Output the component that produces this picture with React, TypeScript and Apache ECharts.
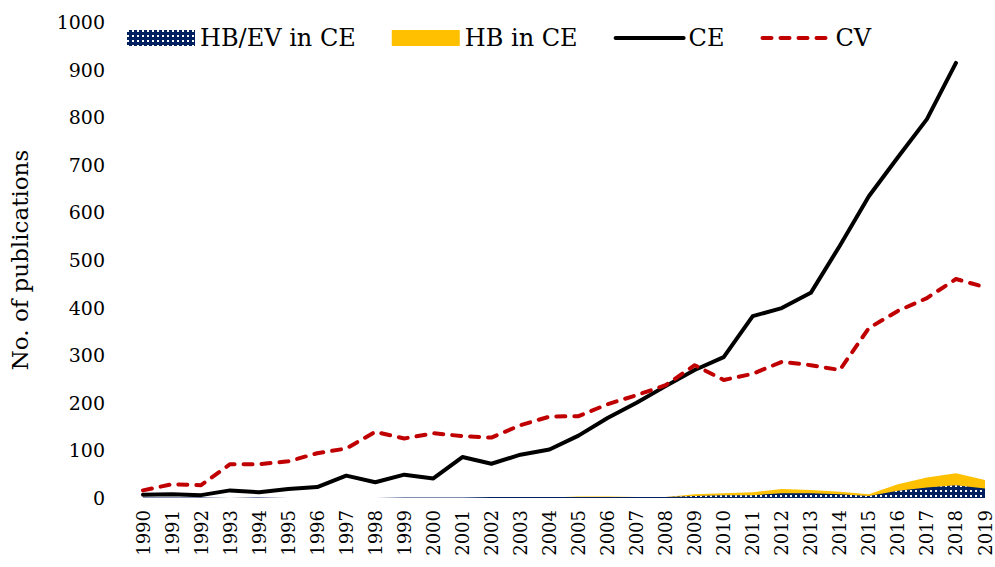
import React, { useEffect, useRef } from "react";
import * as echarts from "echarts";

const years = ["1990","1991","1992","1993","1994","1995","1996","1997","1998","1999","2000","2001","2002","2003","2004","2005","2006","2007","2008","2009","2010","2011","2012","2013","2014","2015","2016","2017","2018","2019"];
const hbEvInCE = [1,1,1,0,1,0,0,0,0,1,1,1,2,2,2,2,2,2,2,4,6,6,10,10,8,4,15,22,27,20];
const hbInCE = [0,0,0,0,0,0,0,0,0,0,0,0,0,0,1,3,3,2,2,8,10,12,19,17,13,8,29,43,52,38];
const ce: (number | null)[] = [7,8,6,16,12,19,23,47,33,49,41,86,72,91,102,131,168,200,235,269,296,382,399,431,530,634,716,796,914,null];
const cv = [16,29,27,71,71,77,94,104,139,125,136,130,127,153,171,172,197,216,237,279,248,261,286,279,269,357,393,420,460,443];

const FONT = "DejaVu Serif";

export default function App() {
  const ref = useRef<HTMLDivElement>(null);
  useEffect(() => {
    if (!ref.current) return;
    const chart = echarts.init(ref.current, null, { renderer: "svg" });
    chart.setOption({
      animation: false,
      backgroundColor: "#ffffff",
      textStyle: { fontFamily: FONT, color: "#000" },
      legend: {
        left: 122,
        top: 21,
        itemWidth: 68,
        itemHeight: 16,
        itemGap: 36,
        textStyle: { fontFamily: FONT, fontSize: 24, color: "#000" },
        data: [
          { name: "HB/EV in CE", icon: "rect" },
          { name: "HB in CE", icon: "rect" },
          {
            name: "CE",
            itemStyle: { opacity: 0 },
            lineStyle: { color: "#000000", width: 4, cap: "round" },
          },
          {
            name: "CV",
            itemStyle: { opacity: 0 },
            lineStyle: { color: "#C00000", width: 4, type: [9, 9], cap: "round" },
          },
        ],
      },
      grid: { left: 137, right: 10, top: 22, bottom: 69, containLabel: false },
      xAxis: {
        type: "category",
        data: years,
        boundaryGap: false,
        axisLine: { show: false },
        axisTick: { show: false },
        splitLine: { show: false },
        axisLabel: {
          rotate: 90,
          margin: 12,
          interval: 0,
          fontFamily: FONT,
          fontSize: 18,
          color: "#000",
        },
      },
      yAxis: {
        type: "value",
        min: 0,
        max: 1000,
        interval: 100,
        axisLine: { show: false },
        axisTick: { show: false },
        splitLine: { show: false },
        axisLabel: {
          margin: 38,
          fontFamily: FONT,
          fontSize: 19,
          color: "#000",
          formatter: (v: number) => String(v),
        },
        name: "No. of publications",
        nameLocation: "middle",
        nameRotate: 90,
        nameGap: 112,
        nameTextStyle: { fontFamily: FONT, fontSize: 23, color: "#000" },
      },
      series: [
        {
          name: "HB in CE",
          type: "line",
          data: hbInCE,
          symbol: "none",
          lineStyle: { width: 0 },
          itemStyle: { color: "#FFC000" },
          areaStyle: { color: "#FFC000", opacity: 1 },
          z: 1,
        },
        {
          name: "HB/EV in CE",
          type: "line",
          data: hbEvInCE,
          symbol: "none",
          lineStyle: { width: 0 },
          itemStyle: {
            color: "#002060",
            decal: {
              symbol: "rect",
              symbolSize: 1,
              color: "#ffffff",
              dashArrayX: [1.5, 2.5],
              dashArrayY: [1.5, 2.5],
              rotation: 0,
            },
          },
          areaStyle: { color: "#002060", opacity: 1 },
          z: 2,
        },
        {
          name: "CE",
          type: "line",
          data: ce,
          symbol: "none",
          connectNulls: false,
          itemStyle: { color: "#000000" },
          lineStyle: { color: "#000000", width: 4, cap: "round", join: "round" },
          z: 3,
        },
        {
          name: "CV",
          type: "line",
          data: cv,
          symbol: "none",
          itemStyle: { color: "#C00000" },
          lineStyle: { color: "#C00000", width: 4, type: [9, 9], cap: "round", join: "round" },
          z: 4,
        },
      ],
    });
    return () => chart.dispose();
  }, []);
  return (
    <div
      ref={ref}
      style={{ position: "fixed", left: 0, top: 0, width: 995, height: 567, background: "#fff" }}
    />
  );
}
